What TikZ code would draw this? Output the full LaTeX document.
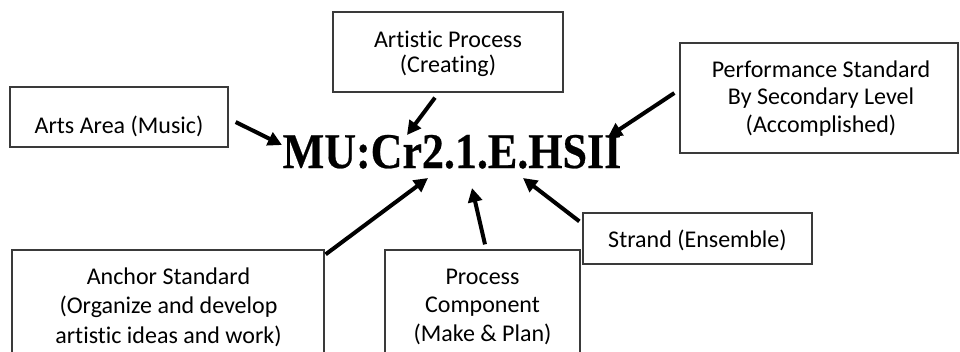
\documentclass[tikz,border=0pt]{standalone}
\usepackage{fontspec}
\usepackage{graphicx}
\setmainfont{Carlito}[Ligatures=CommonOff]
\newfontfamily\codefont{Liberation Serif Bold}[FakeBold=0.5]
\usetikzlibrary{arrows.meta}
\definecolor{boxline}{HTML}{3A3A3A}
\tikzset{
  box/.style={draw=boxline, line width=1.3pt, inner sep=0pt},
  txt/.style={align=center, inner sep=0pt, font=\fontsize{24}{26}\selectfont},
  arr/.style={line width=4pt, -{Triangle[length=14pt,width=14pt]}},
}
\begin{document}
\begin{tikzpicture}[x=1pt,y=-1pt]
\useasboundingbox (0,0) rectangle (960,351);
\clip (0,0) rectangle (960,351);
% boxes
\node[box, minimum width=218pt, minimum height=60pt] (arts) at (119,117) {};
\node[box, minimum width=230pt, minimum height=80pt] (proc) at (448,52) {};
\node[box, minimum width=278pt, minimum height=110pt] (perf) at (819,98) {};
\node[box, minimum width=229pt, minimum height=51pt] (strand) at (697.5,238.5) {};
\node[box, minimum width=312pt, minimum height=150pt] (anchor) at (168,325) {};
\node[box, minimum width=195pt, minimum height=150pt] (pc) at (482.5,325) {};
% texts (base anchor = last line baseline)
\node[txt, anchor=base] (artsT) at (119,133) {Arts Area (Music)};
\node[txt, anchor=base, font=\fontsize{24}{24.5}\selectfont] (procT) at (448,72) {Artistic Process\\(Creating)};
\node[txt, anchor=base, font=\fontsize{24}{27.5}\selectfont] (perfT) at (821,132) {Performance Standard\\By Secondary Level\\(Accomplished)};
\node[txt, anchor=base] (strandT) at (697.5,247) {Strand (Ensemble)};
\node[txt, anchor=base, font=\fontsize{24}{29.5}\selectfont] (anchorT) at (168.5,343) {Anchor Standard\\(Organize and develop\\artistic ideas and work)};
\node[txt, anchor=base, font=\fontsize{24}{28.5}\selectfont] (pcT) at (482.5,341) {Process\\Component\\(Make \& Plan)};
% code
\node[anchor=base, inner sep=0pt] (code) at (452,168) {\fontsize{50}{60}\selectfont\codefont\scalebox{0.88}[1]{MU:Cr2.1.E.HSII}};
% arrow tips
\coordinate (tArts) at (282,145);
\coordinate (tProc) at (407,135);
\coordinate (tPerf) at (608,137);
\coordinate (tAnchor) at (428,178);
\coordinate (tPc) at (472,188);
\coordinate (tStrand) at (523,178);
% arrows
\draw[arr] ([shift={(7,5)}]arts.east) -- (tArts);
\draw[arr] ([shift={(-13,5)}]proc.south) -- (tProc);
\draw[arr] ([shift={(-5,-5)}]perf.west) -- (tPerf);
\draw[arr] ([shift={(1,5)}]anchor.north east) -- (tAnchor);
\draw[arr] ([shift={(2.5,-5)}]pc.north) -- (tPc);
\draw[arr] ([shift={(-3,9)}]strand.north west) -- (tStrand);
\end{tikzpicture}
\end{document}
